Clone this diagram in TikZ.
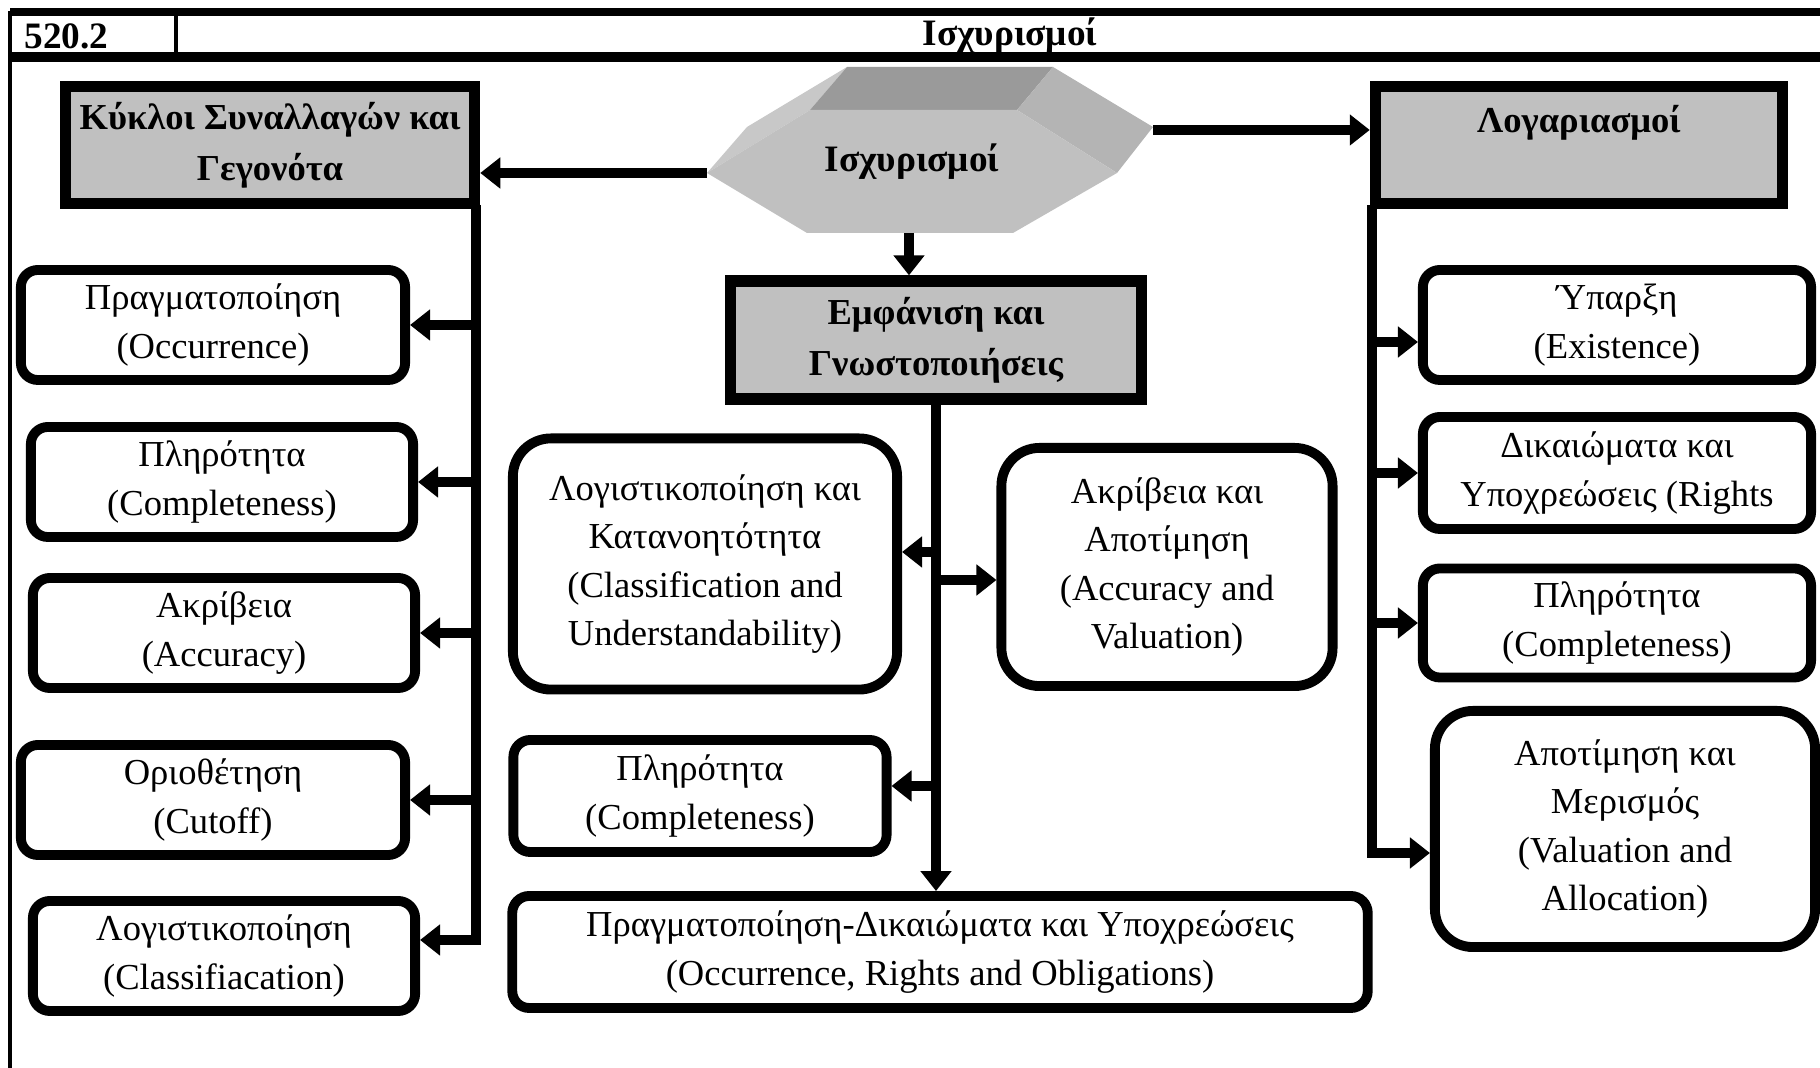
\documentclass[tikz,border=0pt]{standalone}
\usepackage{fontspec}
\setmainfont{Liberation Serif}
\usetikzlibrary{arrows.meta}
\definecolor{hdgray}{HTML}{C0C0C0}
\definecolor{hxtop}{HTML}{9A9A9A}
\definecolor{hxside}{HTML}{B4B4B4}
\definecolor{hxleft}{HTML}{C8C8C8}

\begin{document}
\begin{tikzpicture}[
	x=0.01cm, y=-0.01cm,
	block/.style={rectangle, draw, fill=white, line width=2.8pt, rounded corners=0.17cm,
		align=center, inner sep=2pt, font=\fontsize{10.4}{13.8}\selectfont},
	tall/.style={block, rounded corners=0.38cm},
	small/.style={minimum width=3.84cm, minimum height=1.10cm},
	head/.style={rectangle, draw, fill=hdgray, line width=3.2pt, align=center,
		font=\bfseries\fontsize{10.4}{14.6}\selectfont},
	line/.style={draw, line width=2.6pt, -{Triangle[length=0.2cm, width=0.3cm]}},
	]
	\useasboundingbox (0,0) rectangle (1820,1068);
	
	% frame and title row
	\draw[line width=2.4pt] (10,12) -- (1820,12);
	\draw[line width=2.8pt] (10,57) -- (1820,57);
	\draw[line width=1.4pt] (10,11) -- (10,1068);
	\draw[line width=1.4pt] (176,12) -- (176,57);
	\node[anchor=west, font=\bfseries\fontsize{10.6}{13}\selectfont] (num) at (12,36) {520.2};
	\node[font=\bfseries\fontsize{10.6}{13}\selectfont] (title) at (1010,36) {Ισχυρισμοί};
	
	% hexagon
	\fill[hxleft] (707,173) -- (747,127) -- (847,67) -- (810,110) -- cycle;
	\fill[hxtop] (847,67) -- (1053,67) -- (1017,110) -- (810,110) -- cycle;
	\fill[hxside] (1053,67) -- (1153,127) -- (1117,173) -- (1017,110) -- cycle;
	\fill[hdgray] (707,173) -- (810,110) -- (1017,110) -- (1117,173) -- (1013,233) -- (807,233) -- cycle;
	\node[font=\bfseries\fontsize{10.6}{13}\selectfont] (hex) at (912,162) {Ισχυρισμοί};
	\coordinate (hl) at (707,173);
	\coordinate (hr) at (1153,130);
	\coordinate (hb) at (909,233);
	
	\node[head, minimum width=4.09cm, minimum height=1.17cm] (kyk) at (270,145) {Κύκλοι Συναλλαγών και\\Γεγονότα};
	\node[head, minimum width=4.07cm, minimum height=1.17cm] (log) at (1579,145) {Λογαριασμοί\\\mbox{}};
	\node[head, minimum width=4.11cm, minimum height=1.18cm] (emf) at (936,340) {Εμφάνιση και\\Γνωστοποιήσεις};
	
	% left column
	\node[block, small] (c1) at (213,325) {Πραγματοποίηση\\(Occurrence)};
	\node[block, small, minimum width=3.82cm] (c2) at (222,482) {Πληρότητα\\(Completeness)};
	\node[block, small, minimum width=3.82cm] (c3) at (224,633) {Ακρίβεια\\(Accuracy)};
	\node[block, small] (c4) at (213,800) {Οριοθέτηση\\(Cutoff)};
	\node[block, small, minimum width=3.82cm] (c5) at (224,956) {Λογιστικοποίηση\\(Classifiacation)};
	
	% middle
	\node[tall, minimum width=3.84cm, minimum height=2.51cm] (cls) at (705,564) {Λογιστικοποίηση και\\Κατανοητότητα\\(Classification and\\Understandability)};
	\node[tall, minimum width=3.31cm, minimum height=2.38cm] (acv) at (1167,567) {Ακρίβεια και\\Αποτίμηση\\(Accuracy and\\Valuation)};
	\node[block, minimum width=3.73cm, minimum height=1.12cm] (cmp) at (700,796) {Πληρότητα\\(Completeness)};
	\node[block, minimum width=8.55cm, minimum height=1.12cm] (bot) at (940,952) {Πραγματοποίηση-Δικαιώματα και Υποχρεώσεις\\(Occurrence, Rights and Obligations)};
	
	% right column
	\node[block, small, minimum width=3.88cm] (r1) at (1617,325) {Ύπαρξη\\(Existence)};
	\node[block, small, minimum width=3.88cm, minimum height=1.12cm] (r2) at (1617,473) {Δικαιώματα και\\Υποχρεώσεις (Rights};
	\node[block, small, minimum width=3.88cm, minimum height=1.09cm] (r3) at (1617,623) {Πληρότητα\\(Completeness)};
	\node[tall, minimum width=3.80cm, minimum height=2.36cm] (r4) at (1625,829) {Αποτίμηση και\\Μερισμός\\(Valuation and\\Allocation)};
	
	% connectors
	\path[line] (hl) -- (hl -| kyk.east);
	\path[line] (hr) -- (hr -| log.west);
	\path[line] (hb) -- (hb |- emf.north);
	
	\coordinate (lt) at (476,205);
	\path[line] (lt) |- ([yshift=0.16cm]c5.east);
	\foreach \n in {c1,c2,c3,c4}
		\path[line] (lt |- \n.east) -- (\n.east);
	
	\coordinate (rt) at (1372,205);
	\path[line] (rt) |- ([yshift=-0.24cm]r4.west);
	\path[line] ([yshift=-0.17cm]r1.west -| rt) -- ([yshift=-0.17cm]r1.west);
	\foreach \n in {r2,r3}
		\path[line] (rt |- \n.west) -- (\n.west);
	
	\path[line] (emf.south) -- (emf.south |- bot.north);
	\path[line] ([yshift=0.12cm]cls.east -| emf.south) -- ([yshift=0.12cm]cls.east);
	\path[line] ([yshift=-0.13cm]acv.west -| emf.south) -- ([yshift=-0.13cm]acv.west);
	\path[line] ([yshift=0.1cm]cmp.east -| emf.south) -- ([yshift=0.1cm]cmp.east);
\end{tikzpicture}
\end{document}
